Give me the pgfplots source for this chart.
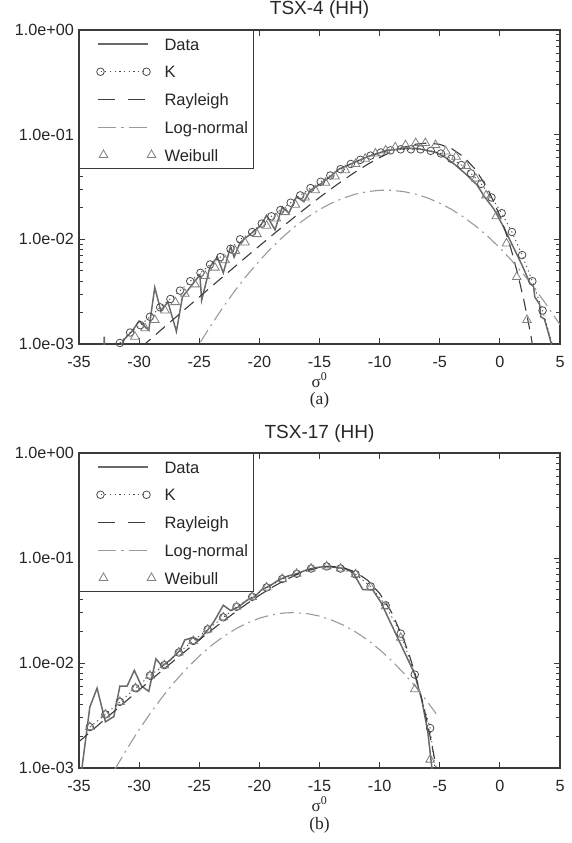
\documentclass[border=0pt]{standalone}
\usepackage{pgfplots}
\pgfplotsset{compat=1.18}
\usepackage{fontspec}
\setmainfont{Liberation Sans}
\newfontfamily\seriffont{Liberation Serif}
\definecolor{axgray}{HTML}{3A3A3A}
\definecolor{datagray}{HTML}{6A6A6A}
\definecolor{kgray}{HTML}{4A4A4A}
\definecolor{raygray}{HTML}{3C3C3C}
\definecolor{lngray}{HTML}{9A9A9A}
\definecolor{wbgray}{HTML}{808080}
\pgfplotsset{
  legdata/.style={legend image code/.code={\path[draw=none,fill=none] (0pt,-1pt) rectangle (79pt,1pt); \draw[##1] (12pt,0pt) -- (62pt,0pt);}},
  legk/.style={legend image code/.code={\path[draw=none,fill=none] (0pt,-1pt) rectangle (79pt,1pt); \draw[##1] plot coordinates {(15pt,0pt) (61pt,0pt)};}},
  legray/.style={legend image code/.code={\path[draw=none,fill=none] (0pt,-1pt) rectangle (79pt,1pt); \draw[##1, dash pattern=on 17pt off 13pt] (12pt,0pt) -- (62pt,0pt);}},
  legln/.style={legend image code/.code={\path[draw=none,fill=none] (0pt,-1pt) rectangle (79pt,1pt); \draw[##1, dash pattern=on 18pt off 5pt on 3pt off 5pt] (12pt,0pt) -- (62pt,0pt);}},
  legwb/.style={legend image code/.code={\path[draw=none,fill=none] (0pt,-1pt) rectangle (79pt,1pt); \draw[##1] plot[only marks] coordinates {(18pt,0pt) (66pt,0pt)};}},
}
\begin{document}
\begin{tikzpicture}
\useasboundingbox (0pt,0pt) rectangle (571pt,-843pt);
% ---------------- (a) TSX-4 ----------------
\begin{axis}[at={(79pt,-344pt)}, anchor=south west, height=314pt,
    scale only axis, width=481pt,
    xmin=-35, xmax=5, ymode=log, ymin=1e-3, ymax=1,
    xtick={-35,-30,-25,-20,-15,-10,-5,0,5},
    xticklabels={-35,-30,-25,-20,-15,-10,-5,0,5},
    ytick={0.001,0.01,0.1,1},
    yticklabels={1.0e-03,1.0e-02,1.0e-01,1.0e+00},
    minor ytick={0.002,0.003,0.004,0.005,0.006,0.007,0.008,0.009,0.02,0.03,0.04,0.05,0.06,0.07,0.08,0.09,0.2,0.3,0.4,0.5,0.6,0.7,0.8,0.9},
    tick align=inside,
    major tick length=6pt, minor tick length=4pt,
    axis line style={axgray, line width=1.1pt},
    tick style={axgray, line width=0.9pt},
    tick label style={font=\fontsize{16.2}{19}\selectfont, text=black!85},
    yticklabel style={inner sep=0pt, xshift=-5pt},
    xticklabel style={inner sep=0pt, yshift=-12pt},
    title={TSX-4 (HH)},
    title style={font=\fontsize{19}{22}\selectfont, inner sep=0pt, anchor=base, at={(0.5,1)}, yshift=10pt, text=black!85},
    xlabel={σ\textsuperscript{0}},
    xlabel style={font=\seriffont\fontsize{17}{20}\selectfont, at={(axis description cs:0.5,0)}, anchor=base, yshift=-43pt, inner sep=0pt, text=black!85},
    legend cell align=left,
    legend style={at={(0,1)}, anchor=north west, draw=axgray, line width=1pt, fill=white,
      inner xsep=6pt, inner ysep=7.5pt, row sep=15.75pt, column sep=0pt,
      font=\fontsize{16.5}{19}\selectfont, text=black!85,
      nodes={inner sep=0pt, text height=12pt, text depth=0pt, anchor=west}},
  ]
\addplot[datagray, line width=1.5pt, solid, mark=none, legdata] coordinates {
(-33.0,5.0e-4) (-32.9,1.175e-3) (-32.8,5.0e-4) (-31.9,7.94e-4) (-31.2,1.122e-3) (-30.6,1.318e-3)
(-30.0,1.660e-3) (-29.2,1.349e-3) (-28.7,3.467e-3) (-28.2,2.089e-3) (-27.6,2.512e-3) (-26.9,1.318e-3)
(-26.4,2.818e-3) (-25.7,3.548e-3) (-24.95,4.571e-3) (-24.8,2.630e-3) (-24.1,5.495e-3) (-23.5,6.761e-3)
(-23.0,4.786e-3) (-22.4,8.511e-3) (-22.1,6.761e-3) (-21.6,9.333e-3) (-20.75,1.122e-2) (-19.9,1.349e-2)
(-19.4,1.698e-2) (-18.7,1.230e-2) (-18.1,2.042e-2) (-17.55,1.778e-2) (-16.9,2.570e-2) (-16.3,2.291e-2)
(-15.75,2.951e-2) (-14.9,3.388e-2) (-14.1,3.981e-2) (-13.4,4.677e-2) (-12.6,5.129e-2) (-11.8,5.623e-2)
(-11.0,6.166e-2) (-10.2,6.607e-2) (-9.4,7.079e-2) (-8.5,7.244e-2) (-7.7,7.413e-2) (-6.9,7.413e-2)
(-6.1,7.079e-2) (-5.3,6.761e-2) (-4.5,6.026e-2) (-3.7,5.129e-2) (-2.8,4.169e-2) (-1.9,3.311e-2)
(-1.3,2.570e-2) (-0.5,1.950e-2) (0.3,1.318e-2) (1.1,8.511e-3) (1.9,5.495e-3) (2.5,3.802e-3)
(2.8,3.548e-3) (2.9,2.818e-3) (3.3,2.399e-3) (3.4,1.820e-3) (3.7,1.738e-3) (4.0,1.318e-3) (4.4,8.913e-4)
};
\addlegendentry{Data}
\addplot[kgray, line width=0.9pt, dash pattern=on 1.2pt off 3.5pt, mark=o, mark size=3.8pt,
    mark options={solid, line width=0.8pt}, legk] coordinates {
(-31.6,1.023e-3) (-30.75,1.288e-3) (-29.9,1.514e-3) (-29.1,1.820e-3) (-28.25,2.239e-3) (-27.4,2.692e-3)
(-26.6,3.236e-3) (-25.75,3.981e-3) (-24.9,4.786e-3) (-24.1,5.754e-3) (-23.25,6.761e-3) (-22.4,8.128e-3)
(-21.6,1.0e-2) (-20.6,1.175e-2) (-19.8,1.413e-2) (-19.0,1.660e-2) (-18.25,1.905e-2) (-17.4,2.239e-2)
(-16.6,2.630e-2) (-15.75,3.090e-2) (-14.9,3.548e-2) (-14.1,4.074e-2) (-13.25,4.677e-2) (-12.4,5.248e-2)
(-11.6,5.754e-2) (-10.75,6.310e-2) (-9.9,6.761e-2) (-9.1,7.079e-2) (-8.25,7.244e-2) (-7.4,7.244e-2)
(-6.6,7.244e-2) (-5.75,7.0e-2) (-4.9,6.607e-2) (-4.05,5.888e-2) (-3.2,5.129e-2) (-2.4,4.266e-2)
(-1.55,3.388e-2) (-0.7,2.512e-2) (0.15,1.778e-2) (1.0,1.175e-2) (1.85,7.079e-3) (2.7,3.981e-3)
(3.55,2.089e-3) (4.4,9.55e-4)
};
\addlegendentry{K}
\addplot[raygray, line width=1.1pt, dash pattern=on 12pt off 7pt, mark=none, legray] coordinates {
(-31,7.13e-4) (-30,8.97e-4) (-29,1.127e-3) (-28,1.419e-3) (-27,1.782e-3) (-26,2.239e-3) (-25,2.812e-3)
(-24,3.527e-3) (-23,4.426e-3) (-22,5.537e-3) (-21,6.934e-3) (-20,8.650e-3) (-19,1.078e-2) (-18,1.340e-2)
(-17,1.660e-2) (-16,2.046e-2) (-15,2.512e-2) (-14,3.058e-2) (-13,3.698e-2) (-12,4.416e-2) (-11,5.212e-2)
(-10,6.039e-2) (-9,6.871e-2) (-8,7.586e-2) (-7,8.115e-2) (-6,8.318e-2) (-5,8.083e-2) (-4,7.345e-2)
(-3,6.138e-2) (-2,4.603e-2) (-1,3.027e-2) (0,1.679e-2) (0.5,1.160e-2) (1,7.551e-3) (1.5,4.592e-3)
(2,2.594e-3) (2.5,1.349e-3) (3,6.38e-4)
};
\addlegendentry{Rayleigh}
\addplot[lngray, line width=1.1pt, dash pattern=on 14pt off 5pt on 2pt off 5pt, mark=none, legln] coordinates {
(-26,6.37e-4) (-25,1.0e-3) (-24,1.524e-3) (-23,2.265e-3) (-22,3.266e-3) (-21,4.581e-3) (-20,6.237e-3)
(-19,8.279e-3) (-18,1.067e-2) (-17,1.337e-2) (-16,1.626e-2) (-15,1.928e-2) (-14,2.218e-2) (-13,2.483e-2)
(-12,2.704e-2) (-11,2.858e-2) (-10,2.94e-2) (-9.5,2.951e-2) (-9,2.94e-2) (-8,2.858e-2) (-7,2.704e-2)
(-6,2.483e-2) (-5,2.218e-2) (-4,1.928e-2) (-3,1.626e-2) (-2,1.337e-2) (-1,1.067e-2) (0,8.279e-3)
(1,6.237e-3) (2,4.581e-3) (3,3.266e-3) (4,2.265e-3) (5,1.524e-3)
};
\addlegendentry{Log-normal}
\addplot[wbgray, only marks, mark=triangle, mark size=5pt, mark options={solid, line width=0.8pt}, legwb] coordinates {
(-30.35,1.175e-3) (-29.5,1.413e-3) (-28.7,1.698e-3) (-27.85,2.089e-3) (-27.0,2.512e-3) (-26.2,3.020e-3)
(-25.35,3.715e-3) (-24.5,4.467e-3) (-23.7,5.370e-3) (-22.85,6.310e-3) (-22.0,7.762e-3) (-21.2,9.333e-3)
(-20.2,1.122e-2) (-19.4,1.349e-2) (-18.6,1.585e-2) (-17.85,1.820e-2) (-17.0,2.138e-2) (-16.2,2.512e-2)
(-15.35,2.951e-2) (-14.5,3.467e-2) (-13.7,3.981e-2) (-12.85,4.571e-2) (-12.0,5.248e-2) (-11.2,5.888e-2)
(-10.35,6.607e-2) (-9.5,7.079e-2) (-8.7,7.586e-2) (-7.85,7.943e-2) (-7.0,8.318e-2) (-6.2,8.318e-2)
(-5.35,7.943e-2) (-4.5,6.918e-2) (-3.65,6.166e-2) (-2.8,5.012e-2) (-2.0,3.802e-2) (-1.15,2.630e-2)
(-0.3,1.660e-2) (0.55,9.120e-3) (1.4,4.365e-3) (2.25,1.698e-3)
};
\addlegendentry{Weibull}
\end{axis}
\node[font=\seriffont\fontsize{17.5}{21}\selectfont, anchor=base, inner sep=0pt, text=black!85] at (319.5pt,-404pt) {(a)};
% ---------------- (b) TSX-17 ----------------
\begin{axis}[at={(79pt,-768pt)}, anchor=south west, height=315pt,
    scale only axis, width=481pt,
    xmin=-35, xmax=5, ymode=log, ymin=1e-3, ymax=1,
    xtick={-35,-30,-25,-20,-15,-10,-5,0,5},
    xticklabels={-35,-30,-25,-20,-15,-10,-5,0,5},
    ytick={0.001,0.01,0.1,1},
    yticklabels={1.0e-03,1.0e-02,1.0e-01,1.0e+00},
    minor ytick={0.002,0.003,0.004,0.005,0.006,0.007,0.008,0.009,0.02,0.03,0.04,0.05,0.06,0.07,0.08,0.09,0.2,0.3,0.4,0.5,0.6,0.7,0.8,0.9},
    tick align=inside,
    major tick length=6pt, minor tick length=4pt,
    axis line style={axgray, line width=1.1pt},
    tick style={axgray, line width=0.9pt},
    tick label style={font=\fontsize{16.2}{19}\selectfont, text=black!85},
    yticklabel style={inner sep=0pt, xshift=-5pt},
    xticklabel style={inner sep=0pt, yshift=-12pt},
    title={TSX-17 (HH)},
    title style={font=\fontsize{19}{22}\selectfont, inner sep=0pt, anchor=base, at={(0.5,1)}, yshift=8.5pt, text=black!85},
    xlabel={σ\textsuperscript{0}},
    xlabel style={font=\seriffont\fontsize{17}{20}\selectfont, at={(axis description cs:0.5,0)}, anchor=base, yshift=-43pt, inner sep=0pt, text=black!85},
    legend cell align=left,
    legend style={at={(0,1)}, anchor=north west, draw=axgray, line width=1pt, fill=white,
      inner xsep=6pt, inner ysep=7.5pt, row sep=15.75pt, column sep=0pt,
      font=\fontsize{16.5}{19}\selectfont, text=black!85,
      nodes={inner sep=0pt, text height=12pt, text depth=0pt, anchor=west}},
  ]
\addplot[datagray, line width=1.5pt, solid, mark=none, legdata] coordinates {
(-34.85,7.94e-4) (-34.7,1.122e-3) (-34.1,3.802e-3) (-33.5,5.754e-3) (-32.8,2.754e-3) (-32.1,3.090e-3)
(-31.6,6.026e-3) (-31.0,6.026e-3) (-30.4,8.511e-3) (-29.8,6.026e-3) (-29.2,5.370e-3) (-28.6,1.096e-2)
(-28.1,9.333e-3) (-27.4,1.072e-2) (-26.6,1.318e-2) (-26.2,1.660e-2) (-25.6,1.738e-2) (-25.0,1.660e-2)
(-24.4,1.995e-2) (-23.8,2.455e-2) (-23.0,3.548e-2) (-22.4,3.162e-2) (-21.8,3.388e-2) (-21.0,3.981e-2)
(-20.4,4.266e-2) (-19.8,5.012e-2) (-19.2,5.370e-2) (-18.4,6.166e-2) (-17.6,6.761e-2) (-16.9,7.079e-2)
(-16.0,7.762e-2) (-15.2,8.128e-2) (-14.4,8.318e-2) (-13.6,8.128e-2) (-12.9,7.943e-2) (-12.2,7.244e-2)
(-11.4,5.012e-2) (-10.6,5.012e-2) (-9.9,3.802e-2) (-8.5,1.738e-2) (-7.1,7.943e-3) (-6.5,4.467e-3)
(-6.0,2.239e-3) (-5.6,8.913e-4)
};
\addlegendentry{Data}
\addplot[kgray, line width=0.9pt, dash pattern=on 1.2pt off 3.5pt, mark=o, mark size=3.8pt,
    mark options={solid, line width=0.8pt}, legk] coordinates {
(-34.1,2.455e-3) (-32.8,3.236e-3) (-31.6,4.266e-3) (-30.3,5.754e-3) (-29.1,7.586e-3) (-27.9,9.550e-3)
(-26.7,1.259e-2) (-25.5,1.622e-2) (-24.3,2.089e-2) (-23.0,2.723e-2) (-21.9,3.428e-2) (-20.6,4.266e-2)
(-19.4,5.248e-2) (-18.1,6.310e-2) (-16.9,7.079e-2) (-15.7,7.943e-2) (-14.4,8.318e-2) (-13.25,7.943e-2)
(-12.0,6.998e-2) (-10.75,5.370e-2) (-9.5,3.548e-2) (-8.25,1.905e-2) (-7.08,7.762e-3) (-5.8,2.399e-3)
(-5.35,8.9e-4)
};
\addlegendentry{K}
\addplot[raygray, line width=1.1pt, dash pattern=on 12pt off 7pt, mark=none, legray] coordinates {
(-35,1.782e-3) (-34,2.239e-3) (-33,2.812e-3) (-32,3.527e-3) (-31,4.426e-3) (-30,5.537e-3) (-29,6.934e-3)
(-28,8.650e-3) (-27,1.078e-2) (-26,1.340e-2) (-25,1.660e-2) (-24,2.046e-2) (-23,2.512e-2) (-22,3.058e-2)
(-21,3.698e-2) (-20,4.416e-2) (-19,5.212e-2) (-18,6.039e-2) (-17,6.871e-2) (-16,7.586e-2) (-15,8.115e-2)
(-14,8.318e-2) (-13,8.083e-2) (-12,7.345e-2) (-11,6.138e-2) (-10,4.603e-2) (-9,3.027e-2) (-8,1.679e-2)
(-7.5,1.160e-2) (-7,7.551e-3) (-6.5,4.592e-3) (-6,2.594e-3) (-5.5,1.349e-3) (-5,6.38e-4)
};
\addlegendentry{Rayleigh}
\addplot[lngray, line width=1.1pt, dash pattern=on 14pt off 5pt on 2pt off 5pt, mark=none, legln] coordinates {
(-32,9.79e-4) (-31,1.531e-3) (-30,2.323e-3) (-29,3.412e-3) (-28,4.864e-3) (-27,6.714e-3) (-26,8.974e-3)
(-25,1.164e-2) (-24,1.466e-2) (-23,1.782e-2) (-22,2.104e-2) (-21,2.410e-2) (-20,2.673e-2) (-19,2.871e-2)
(-18,2.992e-2) (-17.2,3.020e-2) (-16,2.951e-2) (-15,2.799e-2) (-14,2.570e-2) (-13,2.291e-2) (-12,1.977e-2)
(-11,1.656e-2) (-10,1.340e-2) (-9,1.054e-2) (-8,8.017e-3) (-7,5.929e-3) (-6,4.236e-3) (-5.3,3.289e-3)
};
\addlegendentry{Log-normal}
\addplot[wbgray, only marks, mark=triangle, mark size=5pt, mark options={solid, line width=0.8pt}, legwb] coordinates {
(-34.1,2.455e-3) (-32.8,3.236e-3) (-31.6,4.266e-3) (-30.3,5.754e-3) (-29.1,7.586e-3) (-27.9,9.550e-3)
(-26.7,1.259e-2) (-25.5,1.622e-2) (-24.3,2.089e-2) (-23.0,2.723e-2) (-21.9,3.428e-2) (-20.6,4.266e-2)
(-19.4,5.248e-2) (-18.1,6.310e-2) (-16.9,7.079e-2) (-15.7,7.943e-2) (-14.4,8.318e-2) (-13.25,7.943e-2)
(-12.0,6.998e-2) (-10.75,5.250e-2) (-9.5,3.467e-2) (-8.25,1.738e-2) (-7.08,5.623e-3) (-5.8,1.202e-3)
};
\addlegendentry{Weibull}
\end{axis}
\node[font=\seriffont\fontsize{17.5}{21}\selectfont, anchor=base, inner sep=0pt, text=black!85] at (319.5pt,-829pt) {(b)};
\end{tikzpicture}
\end{document}
